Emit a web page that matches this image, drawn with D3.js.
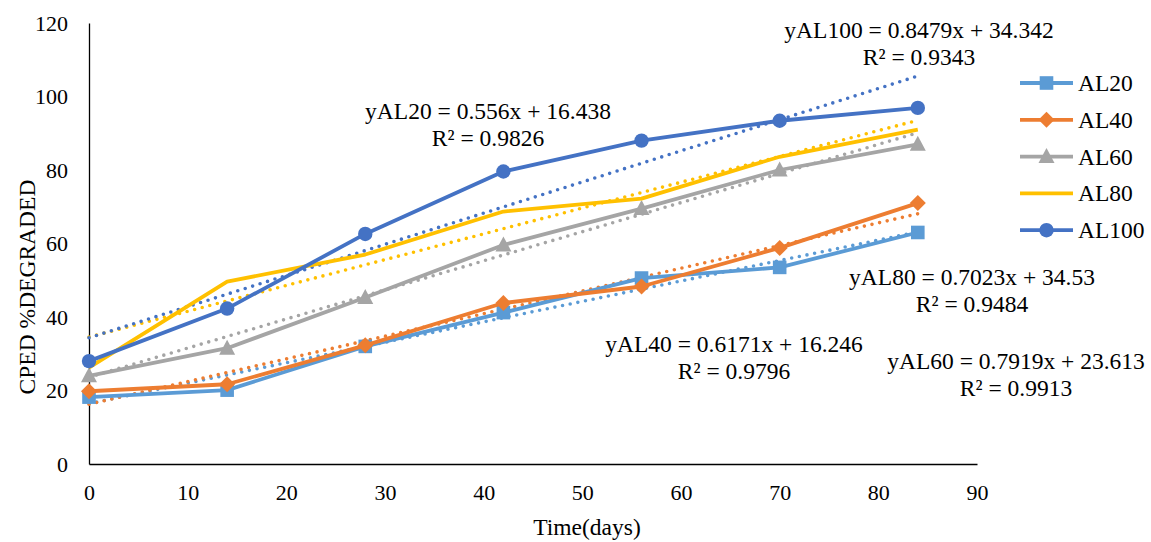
<!DOCTYPE html>
<html>
<head>
<meta charset="utf-8">
<script src="https://cdn.jsdelivr.net/npm/d3@7"></script>
<style>
  html, body { margin: 0; padding: 0; background: #fff; }
  svg { display: block; font-family: "Liberation Serif", "Times New Roman", serif; }
</style>
</head>
<body>
<svg id="chart" width="1151" height="542"></svg>
<script>
// Sampling days
const days = [0, 14, 28, 42, 56, 70, 84];

// % CPED degraded per treatment
const al20  = [18.2, 20.1, 32.0, 41.2, 50.6, 53.5, 63.0];
const al40  = [19.8, 21.7, 32.3, 43.8, 48.3, 58.8, 71.0];
const al60  = [24.0, 31.5, 45.3, 59.6, 69.5, 80.0, 87.0];
const al80  = [26.2, 49.6, 57.0, 68.7, 72.2, 83.6, 91.0];
const al100 = [28.0, 42.3, 62.6, 79.6, 88.0, 93.4, 96.9];

// Linear trend fits (slope, intercept, R²)
const fitSlope     = [0.556, 0.6171, 0.7919, 0.7023, 0.8479];
const fitIntercept = [16.438, 16.246, 23.613, 34.53, 34.342];
const fitR2        = ["0.9826", "0.9796", "0.9913", "0.9484", "0.9343"];

const seriesNames  = ["AL20", "AL40", "AL60", "AL80", "AL100"];
const seriesValues = [al20, al40, al60, al80, al100];
const colors  = ["#5B9BD5", "#ED7D31", "#A5A5A5", "#FFC000", "#4472C4"];
const markers = ["square", "diamond", "triangle", "none", "circle"];

const xTicks = [0, 10, 20, 30, 40, 50, 60, 70, 80, 90];
const yTicks = [0, 20, 40, 60, 80, 100, 120];

const svg = d3.select("#chart");
const x = d3.scaleLinear().domain([0, 90]).range([89, 977]);
const y = d3.scaleLinear().domain([0, 120]).range([464, 23]);

// Axes
const yAxis = svg.append("g").attr("transform", `translate(${x(0)},0)`)
  .call(d3.axisLeft(y).tickValues(yTicks).tickSize(0).tickPadding(21));
const xAxis = svg.append("g").attr("transform", `translate(0,${y(0)})`)
  .call(d3.axisBottom(x).tickValues(xTicks).tickSize(0).tickPadding(20));
[xAxis, yAxis].forEach(a => {
  a.select(".domain").attr("stroke", "#000").attr("stroke-width", 1.3);
  a.selectAll("text").attr("font-family", "Liberation Serif").attr("font-size", 22).attr("fill", "#000");
});

// Axis titles
svg.append("text").attr("x", 587).attr("y", 535).attr("text-anchor", "middle")
  .attr("font-size", 23.5).attr("fill", "#000").text("Time(days)");
svg.append("text").attr("transform", "translate(35,287) rotate(-90)").attr("text-anchor", "middle")
  .attr("font-size", 23.5).attr("fill", "#000").text("CPED %DEGRADED");

// Dotted trend lines
const trendLine = d3.line().x(d => x(d[0])).y(d => y(d[1]));
seriesNames.forEach((n, i) => {
  const x0 = days[0], x1 = days[days.length - 1];
  svg.append("path")
    .attr("d", trendLine([[x0, fitIntercept[i] + fitSlope[i] * x0], [x1, fitIntercept[i] + fitSlope[i] * x1]]))
    .attr("fill", "none").attr("stroke", colors[i]).attr("stroke-width", 3.6)
    .attr("stroke-linecap", "round").attr("stroke-dasharray", "0 7.8");
});

// Marker drawing
function drawMarker(g, type, cx, cy, color) {
  if (type === "circle") {
    g.append("circle").attr("cx", cx).attr("cy", cy).attr("r", 7.2).attr("fill", color);
  } else if (type === "square") {
    g.append("rect").attr("x", cx - 6.8).attr("y", cy - 6.8).attr("width", 13.6).attr("height", 13.6).attr("fill", color);
  } else if (type === "diamond") {
    g.append("path").attr("d", `M${cx},${cy - 8}L${cx + 8},${cy}L${cx},${cy + 8}L${cx - 8},${cy}Z`).attr("fill", color);
  } else if (type === "triangle") {
    g.append("path").attr("d", `M${cx},${cy - 8.5}L${cx + 8},${cy + 6.5}L${cx - 8},${cy + 6.5}Z`).attr("fill", color);
  }
}

// Data lines and markers
const dataLine = d3.line().x((d, j) => x(days[j])).y(d => y(d));
seriesValues.forEach((vals, i) => {
  const g = svg.append("g");
  g.append("path").attr("d", dataLine(vals)).attr("fill", "none")
    .attr("stroke", colors[i]).attr("stroke-width", 3.8).attr("stroke-linejoin", "round");
  vals.forEach((v, j) => drawMarker(g, markers[i], x(days[j]), y(v), colors[i]));
});

// Trend equation labels: [center x, baseline y of first line]
const eqPos = [[488, 119], [734, 352], [1016, 369], [972, 285], [919, 38]];
seriesNames.forEach((n, i) => {
  const t = svg.append("text").attr("text-anchor", "middle").attr("font-size", 23.5).attr("fill", "#000");
  t.append("tspan").attr("x", eqPos[i][0]).attr("y", eqPos[i][1])
    .text(`y${n} = ${fitSlope[i]}x + ${fitIntercept[i]}`);
  t.append("tspan").attr("x", eqPos[i][0]).attr("y", eqPos[i][1] + 26.5)
    .text(`R² = ${fitR2[i]}`);
});

// Legend
const legend = svg.append("g");
seriesNames.forEach((n, i) => {
  const cy = 83 + i * 36.8;
  legend.append("line").attr("x1", 1020).attr("x2", 1073).attr("y1", cy).attr("y2", cy)
    .attr("stroke", colors[i]).attr("stroke-width", 3.8);
  drawMarker(legend, markers[i], 1046.5, cy, colors[i]);
  legend.append("text").attr("x", 1078).attr("y", cy + 8).attr("font-size", 23.5).attr("fill", "#000").text(n);
});
</script>
</body>
</html>
